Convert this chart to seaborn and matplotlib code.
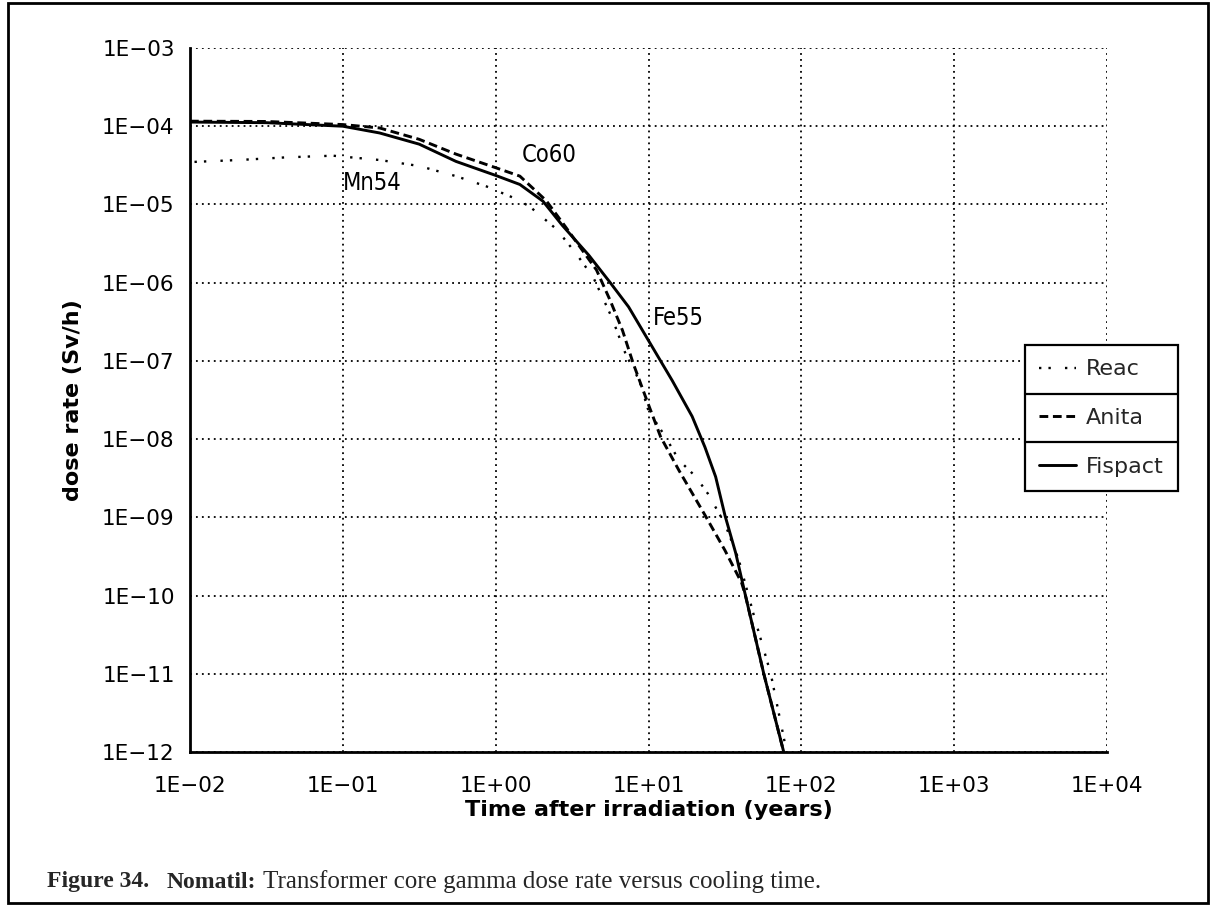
import numpy as np
import pandas as pd
import matplotlib
matplotlib.use("Agg")
import matplotlib.pyplot as plt
from matplotlib.lines import Line2D
from matplotlib.patches import Rectangle
import seaborn as sns

# ---------------- data ----------------
reac_t = [0.0107, 0.0209, 0.0427, 0.0861, 0.174, 0.316, 0.55, 0.871, 1.29, 1.66,
          2.51, 3.39, 4.37, 5.75, 7.08, 8.71, 10.0, 12.9, 15.8, 20.4, 24.5, 31.6,
          38.9, 49.0, 63.1, 79.4]
reac_dose = [3.5e-5, 3.7e-5, 4.0e-5, 4.2e-5, 3.7e-5, 3.1e-5, 2.3e-5, 1.7e-5, 1.23e-5, 9.5e-6,
             4.8e-6, 2.3e-6, 1.15e-6, 3.6e-7, 1.23e-7, 5.6e-8, 2.3e-8, 1.07e-8, 5.4e-9, 3.3e-9,
             2.0e-9, 8.3e-10, 2.9e-10, 5.5e-11, 1.0e-11, 1.1e-12]

anita_t = [0.01, 0.0316, 0.1, 0.174, 0.316, 0.55, 1.0, 1.44, 2.14, 2.88, 4.57, 5.62,
           6.76, 7.94, 9.55, 12.0, 15.8, 23.4, 31.6, 40.7, 43.1, 56.8, 76.7]
anita_dose = [1.16e-4, 1.15e-4, 1.05e-4, 9.5e-5, 6.8e-5, 4.4e-5, 2.95e-5, 2.3e-5, 1.12e-5,
              5.1e-6, 1.45e-6, 5.9e-7, 2.45e-7, 9.3e-8, 3.5e-8, 1.07e-8, 4.0e-9, 1.07e-9,
              3.8e-10, 1.45e-10, 1.0e-10, 1.0e-11, 1.0e-12]

fispact_t = [0.01, 0.0316, 0.1, 0.174, 0.316, 0.55, 1.0, 1.44, 2.04, 2.73, 4.07, 5.62,
             7.41, 10.0, 14.3, 19.3, 23.4, 27.5, 31.6, 37.2, 43.1, 56.8, 76.7]
fispact_dose = [1.13e-4, 1.11e-4, 1.0e-4, 8.2e-5, 5.9e-5, 3.55e-5, 2.35e-5, 1.8e-5, 1.1e-5,
                5.4e-6, 2.24e-6, 1.0e-6, 4.9e-7, 1.82e-7, 5.6e-8, 1.95e-8, 7.9e-9, 3.3e-9,
                1.07e-9, 3.5e-10, 1.0e-10, 1.0e-11, 1.0e-12]

series_names = ["Reac", "Anita", "Fispact"]

x_ticks = [1e-2, 1e-1, 1e0, 1e1, 1e2, 1e3, 1e4]
x_tick_labels = ["1E\u221202", "1E\u221201", "1E+00", "1E+01", "1E+02", "1E+03", "1E+04"]
y_ticks = [1e-3, 1e-4, 1e-5, 1e-6, 1e-7, 1e-8, 1e-9, 1e-10, 1e-11, 1e-12]
y_tick_labels = ["1E\u221203", "1E\u221204", "1E\u221205", "1E\u221206", "1E\u221207",
                 "1E\u221208", "1E\u221209", "1E\u221210", "1E\u221211", "1E\u221212"]

nuclide_labels = ["Co60", "Mn54", "Fe55"]
nuclide_x = [2.23, 0.1, 15.6]
nuclide_y = [4.3e-5, 1.88e-5, 3.5e-7]

# ---------------- styling ----------------
sns.set_theme(style="white")
plt.rcParams["font.family"] = ["DejaVu Sans"]

fig = plt.figure(figsize=(12.19, 9.08), dpi=100)
ax = fig.add_axes([190 / 1219, 1 - 752 / 908, (1107 - 190) / 1219, (752 - 48) / 908])

styles = {
    "Reac": dict(linestyle=(0, (1, 3, 1, 6)), linewidth=1.7),
    "Anita": dict(linestyle=(0, (3, 1.6)), linewidth=2.1),
    "Fispact": dict(linestyle="-", linewidth=2.1),
}
data = {
    "Reac": (reac_t, reac_dose),
    "Anita": (anita_t, anita_dose),
    "Fispact": (fispact_t, fispact_dose),
}
for name in series_names:
    t, d = data[name]
    df = pd.DataFrame({"t": t, "dose": d})
    sns.lineplot(data=df, x="t", y="dose", ax=ax, color="black", estimator=None,
                 sort=False, legend=False, **styles[name])

ax.set_xscale("log")
ax.set_yscale("log")
ax.set_xlim(1e-2, 1e4)
ax.set_ylim(1e-12, 1e-3)
ax.set_xticks(x_ticks)
ax.set_xticklabels(x_tick_labels)
ax.set_yticks(y_ticks)
ax.set_yticklabels(y_tick_labels)
ax.minorticks_off()
ax.tick_params(axis="both", which="major", direction="out", length=8, width=1.8,
               color="black", labelsize=15.5, labelcolor="black", pad=3)
ax.tick_params(axis="x", pad=9)

ax.grid(True, which="major", color="black", linestyle=(0, (1, 2.3)), linewidth=1.3)
for side in ["top", "right"]:
    ax.spines[side].set_visible(False)
for side in ["left", "bottom"]:
    ax.spines[side].set_visible(True)
    ax.spines[side].set_color("black")
    ax.spines[side].set_linewidth(2.0)

ax.set_xlabel("Time after irradiation (years)", fontsize=16, fontweight="bold",
              color="black", labelpad=3)
ax.set_ylabel("dose rate (Sv/h)", fontsize=16, fontweight="bold", color="black",
              labelpad=14)

for lab, xx, yy in zip(nuclide_labels, nuclide_x, nuclide_y):
    ax.text(xx, yy, lab, fontsize=17, color="black", fontstretch="condensed",
            ha="left" if lab == "Mn54" else "center", va="center",
            family=["DejaVu Sans"])

# legend (boxed rows, partly outside the axes)
handles = [Line2D([], [], color="black", **styles[n]) for n in series_names]
leg = ax.legend(handles, series_names, loc="upper left",
                bbox_to_anchor=(1025 / 1219, 1 - 345 / 908), bbox_transform=fig.transFigure,
                frameon=True, fancybox=False, edgecolor="black", framealpha=1,
                fontsize=16, handlelength=1.65, handletextpad=0.45, borderpad=0.65,
                labelspacing=1.29, borderaxespad=0)
leg.get_frame().set_linewidth(1.6)

fig.canvas.draw()
bb = leg.get_frame().get_window_extent().transformed(fig.transFigure.inverted())
for k in (1, 2):
    yy = bb.y0 + bb.height * k / 3
    fig.add_artist(Line2D([bb.x0, bb.x1], [yy, yy], transform=fig.transFigure,
                          color="black", linewidth=1.6, zorder=10))

# outer frame
fig.add_artist(Rectangle((8 / 1219, 5 / 908), 1200 / 1219, 900 / 908,
                         transform=fig.transFigure, fill=False, edgecolor="black",
                         linewidth=2.0))

# caption
cap_y = 1 - 882 / 908
fig.text(47 / 1219, cap_y, "Figure 34.", fontsize=17, fontweight="bold",
         family=["Liberation Serif"], va="center", ha="left")
fig.text(167 / 1219, cap_y, "Nomatil:", fontsize=17, fontweight="bold",
         family=["Liberation Serif"], va="center", ha="left")
fig.text(263 / 1219, cap_y,
         "Transformer core gamma dose rate versus cooling time.", fontsize=18,
         family=["Liberation Serif"], va="center", ha="left")

fig.savefig("out.png", dpi=100, facecolor="white")
